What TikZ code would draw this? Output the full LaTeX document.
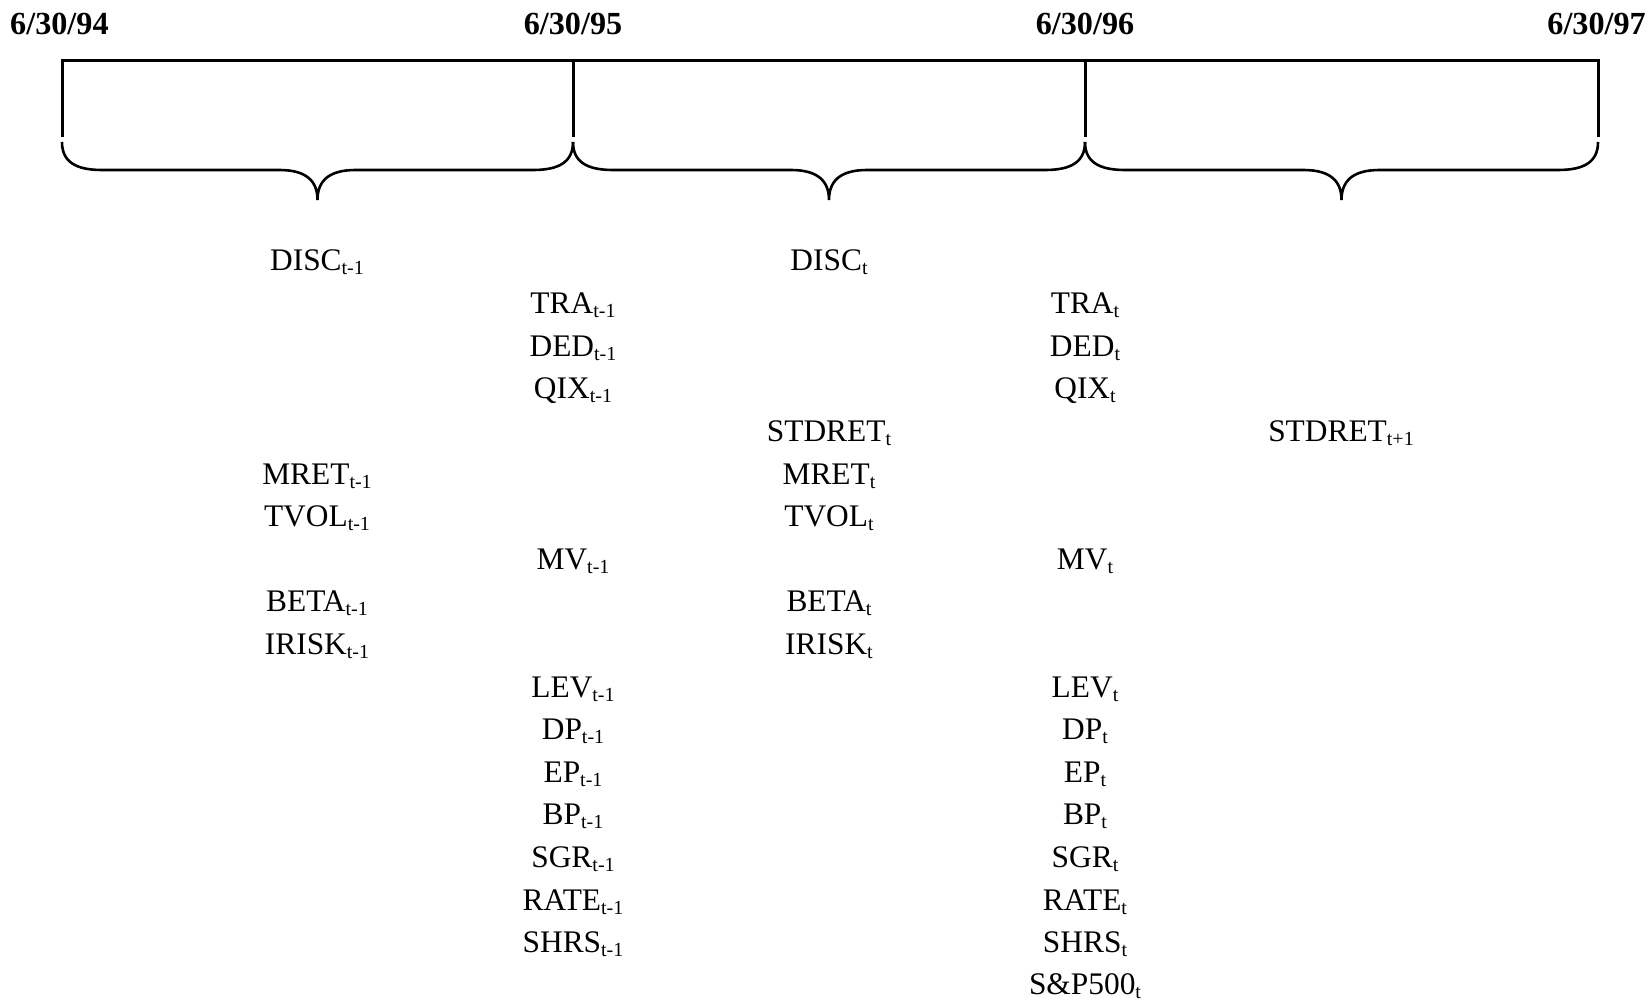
\documentclass[tikz,border=0pt]{standalone}
\usepackage{fontspec}
\setmainfont{Liberation Serif}
\newcommand{\sbs}[1]{\raisebox{-4pt}{\fontsize{20}{20}\selectfont #1}}
\begin{document}
\begin{tikzpicture}[x=1pt,y=-1pt,
  lab/.style={anchor=base,inner sep=0pt,font=\fontsize{31.4}{36}\selectfont},
  datelab/.style={anchor=base,inner sep=0pt,font=\fontsize{32.2}{36}\selectfont\bfseries},
  bar/.style={line width=3pt},
  brace/.style={line width=2.6pt}]
\useasboundingbox (0,0) rectangle (1648,1000);
% dates
\node[datelab,anchor=base west] (d94) at (10,35) {6/30/94};
\node[datelab] (d95) at (573,35) {6/30/95};
\node[datelab] (d96) at (1085,35) {6/30/96};
\node[datelab,anchor=base east] (d97) at (1646,35) {6/30/97};
% timeline
\coordinate (t0) at (62,61);
\coordinate (t1) at (573,61);
\coordinate (t2) at (1085,61);
\coordinate (t3) at (1598,61);
\coordinate (b0) at (62,137);
\coordinate (b1) at (573,137);
\coordinate (b2) at (1085,137);
\coordinate (b3) at (1598,137);
\draw[bar] (b0) -- (t0) -- (t3) -- (b3);
\draw[bar] (t1) -- (b1);
\draw[bar] (t2) -- (b2);
% braces
\foreach \xa/\xb in {62/573,573/1085,1085/1598}{
  \pgfmathsetmacro{\xc}{(\xa+\xb)/2}
  \draw[brace] (\xa,142) .. controls (\xa,162) and (\xa+14,170) .. (\xa+40,170)
     -- (\xc-38,170) .. controls (\xc-10,170) and (\xc,182) .. (\xc,200)
     .. controls (\xc,182) and (\xc+10,170) .. (\xc+38,170)
     -- (\xb-40,170) .. controls (\xb-14,170) and (\xb,162) .. (\xb,142);
}
% column A
\node[lab] (discA) at (317,271) {DISC\sbs{t-1}};
\node[lab] (mretA) at (317,484) {MRET\sbs{t-1}};
\node[lab] (tvolA) at (317,526.6) {TVOL\sbs{t-1}};
\node[lab] (betaA) at (317,611.8) {BETA\sbs{t-1}};
\node[lab] (iriskA) at (317,654.4) {IRISK\sbs{t-1}};
% column B
\node[lab] (traB) at (573,313.6) {TRA\sbs{t-1}};
\node[lab] (dedB) at (573,356.2) {DED\sbs{t-1}};
\node[lab] (qixB) at (573,398.8) {QIX\sbs{t-1}};
\node[lab] (mvB) at (573,569.2) {MV\sbs{t-1}};
\node[lab] (levB) at (573,697) {LEV\sbs{t-1}};
\node[lab] (dpB) at (573,739.6) {DP\sbs{t-1}};
\node[lab] (epB) at (573,782.2) {EP\sbs{t-1}};
\node[lab] (bpB) at (573,824.8) {BP\sbs{t-1}};
\node[lab] (sgrB) at (573,867.4) {SGR\sbs{t-1}};
\node[lab] (rateB) at (573,910) {RATE\sbs{t-1}};
\node[lab] (shrsB) at (573,952.6) {SHRS\sbs{t-1}};
% column C
\node[lab] (discC) at (829,271) {DISC\sbs{t}};
\node[lab] (stdretC) at (829,441.4) {STDRET\sbs{t}};
\node[lab] (mretC) at (829,484) {MRET\sbs{t}};
\node[lab] (tvolC) at (829,526.6) {TVOL\sbs{t}};
\node[lab] (betaC) at (829,611.8) {BETA\sbs{t}};
\node[lab] (iriskC) at (829,654.4) {IRISK\sbs{t}};
% column D
\node[lab] (traD) at (1085,313.6) {TRA\sbs{t}};
\node[lab] (dedD) at (1085,356.2) {DED\sbs{t}};
\node[lab] (qixD) at (1085,398.8) {QIX\sbs{t}};
\node[lab] (mvD) at (1085,569.2) {MV\sbs{t}};
\node[lab] (levD) at (1085,697) {LEV\sbs{t}};
\node[lab] (dpD) at (1085,739.6) {DP\sbs{t}};
\node[lab] (epD) at (1085,782.2) {EP\sbs{t}};
\node[lab] (bpD) at (1085,824.8) {BP\sbs{t}};
\node[lab] (sgrD) at (1085,867.4) {SGR\sbs{t}};
\node[lab] (rateD) at (1085,910) {RATE\sbs{t}};
\node[lab] (shrsD) at (1085,952.6) {SHRS\sbs{t}};
\node[lab] (spD) at (1085,994) {S\&P500\sbs{t}};
% column E
\node[lab] (stdretE) at (1341,441.4) {STDRET\sbs{t+1}};
\end{tikzpicture}
\end{document}
